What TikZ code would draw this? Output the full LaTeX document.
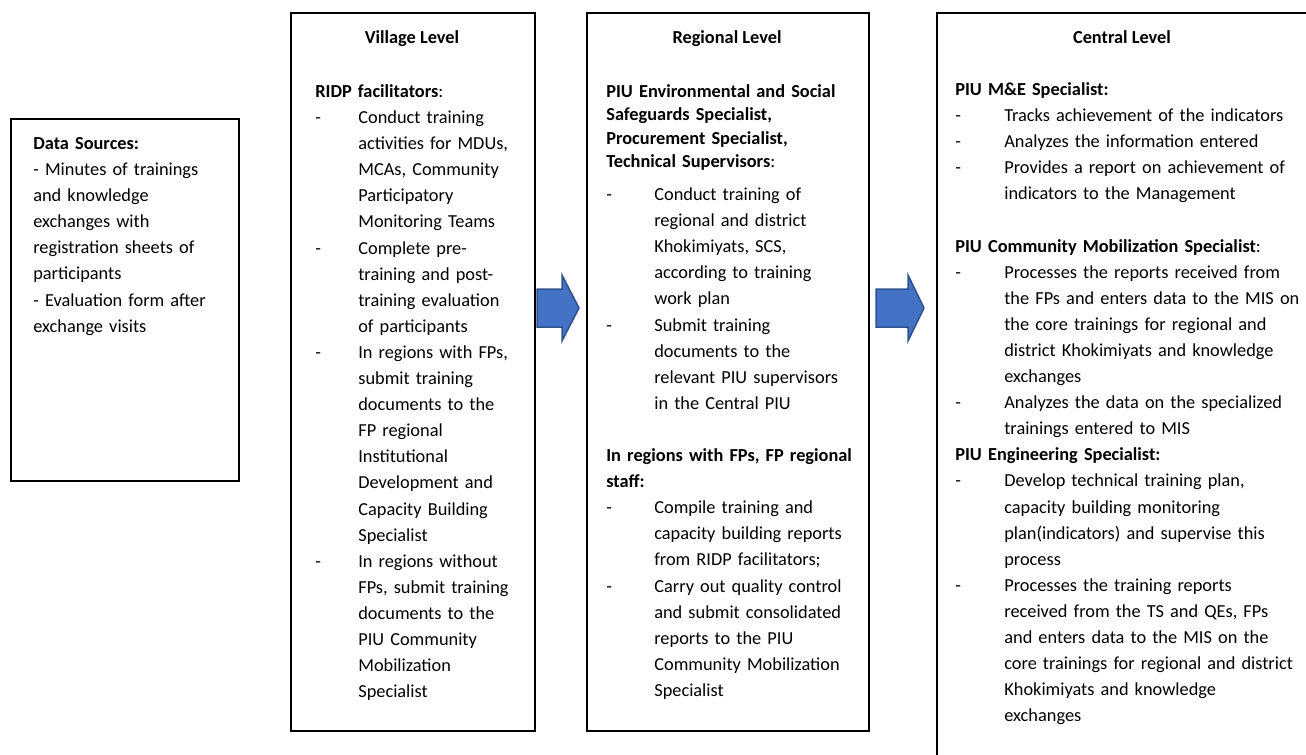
\documentclass[tikz,border=0pt]{standalone}
\usepackage{fontspec}
\setmainfont{Carlito}
\usetikzlibrary{positioning}
\definecolor{arrowfill}{HTML}{4472C4}
\definecolor{arrowline}{HTML}{2F528F}
\newlength{\dashind}
\newcommand{\dashitem}[1]{\par\hangindent=\dashind\hangafter=1\noindent\makebox[\dashind][l]{-}#1\par}

\begin{document}
\begin{tikzpicture}[x=0.6pt,y=-0.6pt,line join=miter,
  levelbox/.style={draw,line width=1.3pt,anchor=north west,inner sep=0pt},
  leveltitle/.style={anchor=base,inner sep=0pt,font=\fontsize{11}{15.66}\selectfont\bfseries},
  bodytext/.style={anchor=base west,inner sep=0pt,font=\fontsize{11}{15.66}\selectfont},
  blockarrow/.style={fill=arrowfill,draw=arrowline,line width=0.9pt}]
  \useasboundingbox (0,0) rectangle (1306,755);
  \clip (0,0) rectangle (1306,755);
  \node[levelbox,minimum width=136.8pt,minimum height=217.2pt] (sources) at (10,118) {};
  \node[levelbox,minimum width=146.4pt,minimum height=430.8pt] (village) at (290,12) {};
  \node[levelbox,minimum width=169.2pt,minimum height=430.8pt] (regional) at (586,12) {};
  \node[levelbox,minimum width=224.4pt,minimum height=448.8pt] (central) at (936,12) {};
  \node[leveltitle] (villagetitle) at (412,43.5) {Village Level};
  \node[leveltitle] (regionaltitle) at (727,43.5) {Regional Level};
  \node[leveltitle] (centraltitle) at (1122,43.5) {Central Level};
  \node[bodytext,text width=120pt] (sourcestext) at (33,149.5) {\textbf{Data Sources:}\newline - Minutes of trainings\newline and knowledge\newline exchanges with\newline registration sheets of\newline participants\newline - Evaluation form after\newline exchange visits};
  \node[bodytext,text width=129pt] (villagetext) at (315,97.5) {\setlength{\dashind}{25.8pt}%
    \textbf{RIDP facilitators}:\par
    \dashitem{Conduct training\newline activities for MDUs,\newline MCAs, Community\newline Participatory\newline Monitoring Teams}
    \dashitem{Complete pre-\newline training and post-\newline training evaluation\newline of participants}
    \dashitem{In regions with FPs,\newline submit training\newline documents to the\newline FP regional\newline Institutional\newline Development and\newline Capacity Building\newline Specialist}
    \dashitem{In regions without\newline FPs, submit training\newline documents to the\newline PIU Community\newline Mobilization\newline Specialist}};
  \node[bodytext,text width=153pt] (regionaltext) at (606,97.5) {\setlength{\dashind}{28.8pt}%
    {\fontsize{11}{14}\selectfont\textbf{PIU Environmental and Social\newline Safeguards Specialist,\newline Procurement Specialist,\newline Technical Supervisors}:\par}
    \vspace{4.2pt}
    \dashitem{Conduct training of\newline regional and district\newline Khokimiyats, SCS,\newline according to training\newline work plan}
    \dashitem{Submit training\newline documents to the\newline relevant PIU supervisors\newline in the Central PIU}
    \vspace{15.66pt}
    \textbf{In regions with FPs, FP regional\newline staff:}\par
    \dashitem{Compile training and\newline capacity building reports\newline from RIDP facilitators;}
    \dashitem{Carry out quality control\newline and submit consolidated\newline reports to the PIU\newline Community Mobilization\newline Specialist}};
  \node[bodytext,text width=207pt] (centraltext) at (955,95.5) {\setlength{\dashind}{29.4pt}%
    \textbf{PIU M\&E Specialist:}\par
    \dashitem{Tracks achievement of the indicators}
    \dashitem{Analyzes the information entered}
    \dashitem{Provides a report on achievement of\newline indicators to the Management}
    \vspace{15.66pt}
    \textbf{PIU Community Mobilization Specialist}:\par
    \dashitem{Processes the reports received from\newline the FPs and enters data to the MIS on\newline the core trainings for regional and\newline district Khokimiyats and knowledge\newline exchanges}
    \dashitem{Analyzes the data on the specialized\newline trainings entered to MIS}
    \textbf{PIU Engineering Specialist:}\par
    \dashitem{Develop technical training plan,\newline capacity building monitoring\newline plan(indicators) and supervise this\newline process}
    \dashitem{Processes the training reports\newline received from the TS and QEs, FPs\newline and enters data to the MIS on the\newline core trainings for regional and district\newline Khokimiyats and knowledge\newline exchanges}};
  \coordinate (arrowA) at (537,308);
  \coordinate (arrowB) at (876,308);
  \draw[blockarrow] (arrowA) ++(0,-19) -- ++(25,0) -- ++(0,-14) -- ++(17,33) -- ++(-17,33) -- ++(0,-14) -- ++(-25,0) -- cycle;
  \draw[blockarrow] (arrowB) ++(0,-19) -- ++(32,0) -- ++(0,-14) -- ++(16,33) -- ++(-16,33) -- ++(0,-14) -- ++(-32,0) -- cycle;
\end{tikzpicture}
\end{document}
